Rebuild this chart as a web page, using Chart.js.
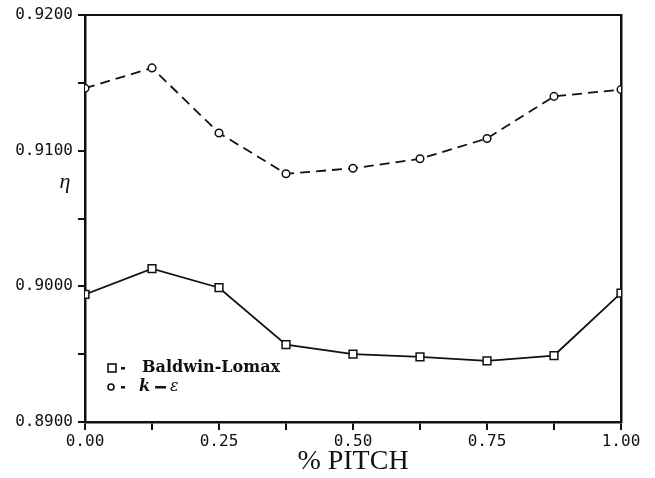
<!DOCTYPE html>
<html>
<head>
<meta charset="utf-8">
<script src="https://cdn.jsdelivr.net/npm/chart.js@4.4.1/dist/chart.umd.min.js"></script>
<style>
  html, body { margin: 0; padding: 0; background: #ffffff; }
  #wrap { width: 655px; height: 478px; }
</style>
</head>
<body>
<div id="wrap"><canvas id="chart" width="655" height="478"></canvas></div>
<script>
// Efficiency across one blade pitch for two turbulence models
const pitch = [0, 0.125, 0.25, 0.375, 0.5, 0.625, 0.75, 0.875, 1.0];
const baldwinLomax = [0.8994, 0.9013, 0.8999, 0.8957, 0.8950, 0.8948, 0.8945, 0.8949, 0.8995];
const kEpsilon = [0.9146, 0.9161, 0.9113, 0.9083, 0.9087, 0.9094, 0.9109, 0.9140, 0.9145];

const yMin = 0.89, yMax = 0.92, yStep = 0.005;   // labelled every 0.01
const xMin = 0, xMax = 1, xStep = 0.125;         // labelled every 0.25

const INK = '#111111';
const tickFont = { family: '"DejaVu Sans Mono", monospace', size: 16 };
const legendFont = '"DejaVu Serif", serif';

function pts(ys) { return pitch.map((x, i) => ({ x: x, y: ys[i] })); }

// Legend block and the eta label drawn inside / beside the plot frame
const annotations = {
  id: 'annotations',
  afterDraw(chart) {
    const { ctx, chartArea, scales } = chart;
    ctx.save();
    ctx.fillStyle = INK;
    ctx.strokeStyle = INK;
    ctx.textBaseline = 'middle';

    // eta label next to the y axis
    ctx.font = 'italic 22px "Liberation Serif", serif';
    ctx.textAlign = 'center';
    ctx.fillText('η', chartArea.left - 20, scales.y.getPixelForValue(0.9077));

    // legend rows
    const lx = chartArea.left + 27;
    const r1 = chartArea.bottom - 54;
    const r2 = chartArea.bottom - 35;
    ctx.lineWidth = 1.6;
    ctx.strokeRect(lx - 4, r1 - 4, 8, 8);
    ctx.beginPath();
    ctx.arc(lx - 1, r2, 3, 0, Math.PI * 2);
    ctx.stroke();

    // short dashes between marker and text
    ctx.fillRect(lx + 9, r1 - 1, 4, 2.5);
    ctx.fillRect(lx + 9, r2 - 1, 4, 2.5);

    ctx.textAlign = 'left';
    ctx.font = 'bold 16px ' + legendFont;
    ctx.fillText(chart.data.datasets[0].label, lx + 30, r1);

    let tx = lx + 27;
    ctx.font = 'bold italic 16px ' + legendFont;
    ctx.fillText('k', tx, r2);
    tx += ctx.measureText('k').width + 5;
    ctx.fillRect(tx, r2 - 1, 11, 2.5);
    tx += 15;
    ctx.font = 'italic 16px ' + legendFont;
    ctx.fillText('ε', tx, r2);
    ctx.restore();
  }
};

new Chart(document.getElementById('chart'), {
  type: 'line',
  data: {
    datasets: [
      {
        label: 'Baldwin-Lomax',
        data: pts(baldwinLomax),
        borderColor: INK,
        borderWidth: 1.8,
        pointStyle: 'rect',
        pointRadius: 5.5,
        pointBorderWidth: 1.5,
        pointBackgroundColor: '#ffffff',
        pointBorderColor: INK,
        tension: 0,
        fill: false
      },
      {
        label: 'k − ε',
        data: pts(kEpsilon),
        borderColor: INK,
        borderWidth: 1.8,
        borderDash: [10, 6],
        pointStyle: 'circle',
        pointRadius: 3.8,
        pointBorderWidth: 1.5,
        pointBackgroundColor: '#ffffff',
        pointBorderColor: INK,
        tension: 0,
        fill: false
      }
    ]
  },
  options: {
    responsive: false,
    animation: false,
    devicePixelRatio: 1,
    layout: { padding: { left: 0, right: 34, top: 15, bottom: 0 } },
    plugins: { legend: { display: false }, tooltip: { enabled: false } },
    scales: {
      x: {
        type: 'linear',
        position: 'bottom',
        min: xMin, max: xMax,
        ticks: {
          stepSize: xStep,
          autoSkip: false,
          maxRotation: 0,
          padding: 2,
          color: INK,
          font: tickFont,
          callback: (v) => (Math.round(v * 1000) % 250 === 0 ? v.toFixed(2) : '')
        },
        grid: { drawOnChartArea: false, drawTicks: true, tickLength: 8, color: INK, lineWidth: 2 },
        border: { display: true, color: INK, width: 2.5 },
        title: {
          display: true,
          text: '% PITCH',
          color: INK,
          font: { family: '"Liberation Serif", serif', size: 28 },
          padding: { top: 0, bottom: 0 }
        },
        afterFit(scale) { scale.height = 56; }
      },
      y: {
        type: 'linear',
        position: 'left',
        min: yMin, max: yMax,
        ticks: {
          stepSize: yStep,
          autoSkip: false,
          padding: 5,
          color: INK,
          font: tickFont,
          callback: (v) => (Math.round(v * 1000) % 10 === 0 ? v.toFixed(4) : '')
        },
        grid: { drawOnChartArea: false, drawTicks: true, tickLength: 7, color: INK, lineWidth: 2 },
        border: { display: true, color: INK, width: 2.5 },
        afterFit(scale) { scale.width = 85; }
      },
      xTop: {
        type: 'linear',
        position: 'top',
        min: xMin, max: xMax,
        ticks: { display: false },
        grid: { drawOnChartArea: false, drawTicks: false },
        border: { display: true, color: INK, width: 2 },
        afterFit(scale) { scale.height = 0; }
      },
      yRight: {
        type: 'linear',
        position: 'right',
        min: yMin, max: yMax,
        ticks: { display: false },
        grid: { drawOnChartArea: false, drawTicks: false },
        border: { display: true, color: INK, width: 2.5 },
        afterFit(scale) { scale.width = 0; }
      }
    }
  },
  plugins: [annotations]
});
</script>
</body>
</html>
